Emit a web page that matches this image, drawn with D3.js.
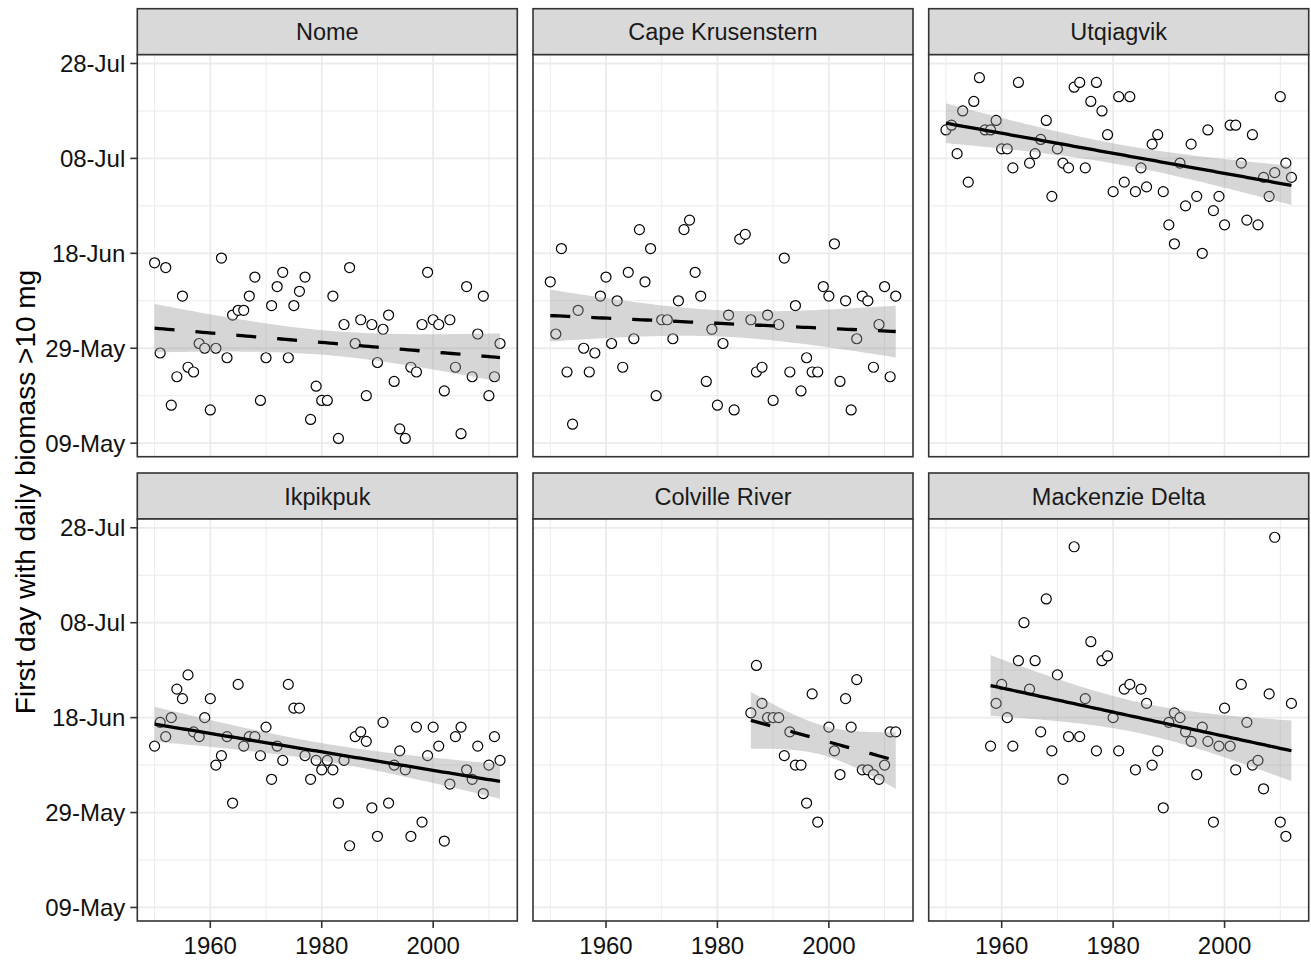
<!DOCTYPE html>
<html>
<head>
<meta charset="utf-8">
<script src="https://cdn.jsdelivr.net/npm/d3@7"></script>
<style>
  body { margin: 0; background: #ffffff; }
  svg { display: block; font-family: "Liberation Sans", Arial, Helvetica, sans-serif; }
</style>
</head>
<body>
<svg id="chart" width="1311" height="960"></svg>
<script>
// ---- Data: first day of year with daily biomass > 10 mg, per site ----
const sites = ["Nome", "Cape Krusenstern", "Utqiagvik", "Ikpikpuk", "Colville River", "Mackenzie Delta"];
const firstYears = [1950, 1950, 1950, 1950, 1986, 1958];

// One value per consecutive year starting at firstYears[i]; null = no value that year
const nomeDays = [
  167, 148, 166, 137, 143, 160, 145, 144, 150, 149,
  136, 149, 168, 147, 156, 157, 157, 160, 164, 138,
  147, 158, 162, 165, 147, 158, 161, 164, 134, 141,
  138, 138, 160, 130, 154, 166, 150, 155, 139, 154,
  146, 153, 156, 142, 132, 130, 145, 144, 154, 165,
  155, 154, 140, 155, 145, 131, 162, 143, 152, 160,
  139, 143, 150];
const capeKrusensternDays = [
  163, 152, 170, 144, 133, 157, 149, 144, 148, 160,
  164, 150, 159, 145, 165, 151, 174, 163, 170, 139,
  155, 155, 151, 159, 174, 176, 165, 160, 142, 153,
  137, 150, 156, 136, 172, 173, 155, 144, 145, 156,
  138, 154, 168, 144, 158, 140, 147, 144, 144, 162,
  160, 171, 142, 159, 136, 151, 160, 159, 145, 154,
  162, 143, 160];
const utqiagvikDays = [
  195, 196, 190, 199, 184, 201, 206, 195, 195, 197,
  191, 191, 187, 205, null, 188, 190, 193, 197, 181,
  191, 188, 187, 204, 205, 187, 201, 205, 199, 194,
  182, 202, 184, 202, 182, 187, 183, 192, 194, 182,
  175, 171, 188, 179, 192, 181, 169, 195, 178, 181,
  175, 196, 196, 188, 176, 194, 175, 185, 181, 186,
  202, 188, 185];
const ikpikpukDays = [
  163, 168, 165, 169, 175, 173, 178, 166, 165, 169,
  173, 159, 161, 165, 151, 176, 163, 165, 165, 161,
  167, 156, 163, 160, 176, 171, 171, 161, 156, 160,
  158, 160, 158, 151, 160, 142, 165, 166, 164, 150,
  144, 168, 151, 159, 162, 158, 144, 167, 147, 161,
  167, 163, 143, 155, 165, 167, 158, 156, 163, 153,
  159, 165, 160];
const colvilleRiverDays = [
  170, 180, 172, 169,
  169, 169, 161, 166, 159, 159, 151, 174, 147, null,
  167, 162, 157, 173, 167, 177, 158, 158, 157, 156,
  159, 166, 166];
const mackenzieDeltaDays = [
  163, 172,
  176, 169, 163, 181, 189, 175, 181, 166, 194, 162,
  178, 156, 165, 205, 165, 173, 185, 162, 181, 182,
  169, 162, 175, 176, 158, 175, 172, 159, 162, 150,
  168, 170, 169, 166, 164, 157, 167, 164, 147, 163,
  171, 163, 158, 176, 168, 159, 160, 154, 174, 207,
  147, 144, 172];

const seriesDays = [nomeDays, capeKrusensternDays, utqiagvikDays,
                    ikpikpukDays, colvilleRiverDays, mackenzieDeltaDays];
// Whether the linear trend at each site is statistically significant
const significantTrend = [false, false, true, true, false, true];

// Axis ticks (day of year) and their date labels
const dayTicks = [129, 149, 169, 189, 209];
const dayTickLabels = ["09-May", "29-May", "18-Jun", "08-Jul", "28-Jul"];
const yearTicks = [1960, 1980, 2000];

const yTitle = "First day with daily biomass >10 mg";

// ---- Build point records ----
const series = sites.map((site, i) => ({
  site,
  points: seriesDays[i]
    .map((day, k) => ({ year: firstYears[i] + k, day }))
    .filter(d => d.day !== null)
}));
const allPoints = series.flatMap(s => s.points);

// ---- Layout ----
const svg = d3.select("#chart");
const panelW = 380, panelH = 402, stripH = 46;
const colX = [137.3, 533, 928.7];
const rowStripTop = [8.7, 473];

// 5% expansion of the data range on both scales
function expanded(ext, f = 0.05) {
  const r = ext[1] - ext[0];
  return [ext[0] - r * f, ext[1] + r * f];
}
const x = d3.scaleLinear()
  .domain(expanded(d3.extent(allPoints, d => d.year)))
  .range([0, panelW]);
const y = d3.scaleLinear()
  .domain(expanded(d3.extent(allPoints, d => d.day)))
  .range([panelH, 0]);

function minorBreaks(major, domain) {
  const step = major[1] - major[0];
  const ext = [major[0] - step, ...major, major[major.length - 1] + step];
  const out = [];
  for (let i = 0; i < ext.length - 1; i++) {
    const m = (ext[i] + ext[i + 1]) / 2;
    if (m >= domain[0] && m <= domain[1]) out.push(m);
  }
  return out;
}
const xMinor = minorBreaks(yearTicks, x.domain());
const yMinor = minorBreaks(dayTicks, y.domain());

// ---- Linear model with 95% confidence band ----
function tQuantile975(df) {
  const z = 1.959964;
  const g1 = (z ** 3 + z) / 4;
  const g2 = (5 * z ** 5 + 16 * z ** 3 + 3 * z) / 96;
  const g3 = (3 * z ** 7 + 19 * z ** 5 + 17 * z ** 3 - 15 * z) / 384;
  return z + g1 / df + g2 / df ** 2 + g3 / df ** 3;
}
function linearFit(pts) {
  const n = pts.length;
  const mx = d3.mean(pts, d => d.year), my = d3.mean(pts, d => d.day);
  let sxx = 0, sxy = 0;
  pts.forEach(d => { sxx += (d.year - mx) ** 2; sxy += (d.year - mx) * (d.day - my); });
  const b = sxy / sxx, a = my - b * mx;
  let sse = 0;
  pts.forEach(d => { const r = d.day - (a + b * d.year); sse += r * r; });
  const s = Math.sqrt(sse / (n - 2));
  const t = tQuantile975(n - 2);
  const [x0, x1] = d3.extent(pts, d => d.year);
  return d3.range(80).map(i => {
    const xv = x0 + (x1 - x0) * i / 79;
    const fit = a + b * xv;
    const se = s * Math.sqrt(1 / n + (xv - mx) ** 2 / sxx);
    return { year: xv, fit, lo: fit - t * se, hi: fit + t * se };
  });
}

const borderColor = "#333333";
const gridColor = "#EBEBEB";

series.forEach((s, i) => {
  const col = i % 3, row = Math.floor(i / 3);
  const px = colX[col];
  const stripTop = rowStripTop[row];
  const py = stripTop + stripH;

  // Strip
  const strip = svg.append("g").attr("transform", `translate(${px},${stripTop})`);
  strip.append("rect")
    .attr("width", panelW).attr("height", stripH)
    .attr("fill", "#D9D9D9").attr("stroke", borderColor).attr("stroke-width", 1.6);
  strip.append("text")
    .attr("x", panelW / 2).attr("y", stripH / 2 + 8.5)
    .attr("text-anchor", "middle")
    .attr("font-size", 23.5).attr("fill", "#1A1A1A")
    .text(s.site);

  const g = svg.append("g").attr("transform", `translate(${px},${py})`);
  g.append("rect").attr("width", panelW).attr("height", panelH).attr("fill", "#fff");

  // Grid
  g.selectAll(".xminor").data(xMinor).join("line")
    .attr("x1", d => x(d)).attr("x2", d => x(d)).attr("y1", 0).attr("y2", panelH)
    .attr("stroke", gridColor).attr("stroke-width", 1);
  g.selectAll(".yminor").data(yMinor).join("line")
    .attr("y1", d => y(d)).attr("y2", d => y(d)).attr("x1", 0).attr("x2", panelW)
    .attr("stroke", gridColor).attr("stroke-width", 1);
  g.selectAll(".xmajor").data(yearTicks).join("line")
    .attr("x1", d => x(d)).attr("x2", d => x(d)).attr("y1", 0).attr("y2", panelH)
    .attr("stroke", gridColor).attr("stroke-width", 1.8);
  g.selectAll(".ymajor").data(dayTicks).join("line")
    .attr("y1", d => y(d)).attr("y2", d => y(d)).attr("x1", 0).attr("x2", panelW)
    .attr("stroke", gridColor).attr("stroke-width", 1.8);

  // Points
  g.selectAll(".pt").data(s.points).join("circle")
    .attr("cx", d => x(d.year)).attr("cy", d => y(d.day)).attr("r", 5)
    .attr("fill", "#fff").attr("stroke", "#000").attr("stroke-width", 1.2);

  // Trend with confidence band
  const fit = linearFit(s.points);
  g.append("path").datum(fit)
    .attr("d", d3.area().x(d => x(d.year)).y0(d => y(d.lo)).y1(d => y(d.hi)))
    .attr("fill", "#999999").attr("fill-opacity", 0.4);
  g.append("path").datum(fit)
    .attr("d", d3.line().x(d => x(d.year)).y(d => y(d.fit)))
    .attr("fill", "none").attr("stroke", "#000").attr("stroke-width", 3.3)
    .attr("stroke-dasharray", significantTrend[i] ? null : "20 21");

  // Border
  g.append("rect").attr("width", panelW).attr("height", panelH)
    .attr("fill", "none").attr("stroke", borderColor).attr("stroke-width", 1.6);

  // Y axis on first column
  if (col === 0) {
    const ya = g.append("g");
    ya.selectAll("line").data(dayTicks).join("line")
      .attr("x1", -7).attr("x2", 0).attr("y1", d => y(d)).attr("y2", d => y(d))
      .attr("stroke", borderColor).attr("stroke-width", 1.6);
    ya.selectAll("text").data(dayTicks).join("text")
      .attr("x", -12).attr("y", d => y(d) + 8.5)
      .attr("text-anchor", "end").attr("font-size", 24).attr("fill", "#111")
      .text((d, k) => dayTickLabels[k]);
  }
  // X axis on bottom row
  if (row === 1) {
    const xa = g.append("g").attr("transform", `translate(0,${panelH})`);
    xa.selectAll("line").data(yearTicks).join("line")
      .attr("x1", d => x(d)).attr("x2", d => x(d)).attr("y1", 0).attr("y2", 7)
      .attr("stroke", borderColor).attr("stroke-width", 1.6);
    xa.selectAll("text").data(yearTicks).join("text")
      .attr("x", d => x(d)).attr("y", 33)
      .attr("text-anchor", "middle").attr("font-size", 24).attr("fill", "#111")
      .text(d => d);
  }
});

// Y axis title
svg.append("text")
  .attr("transform", "translate(35,492) rotate(-90)")
  .attr("text-anchor", "middle")
  .attr("font-size", 28).attr("fill", "#000")
  .text(yTitle);
</script>
</body>
</html>
